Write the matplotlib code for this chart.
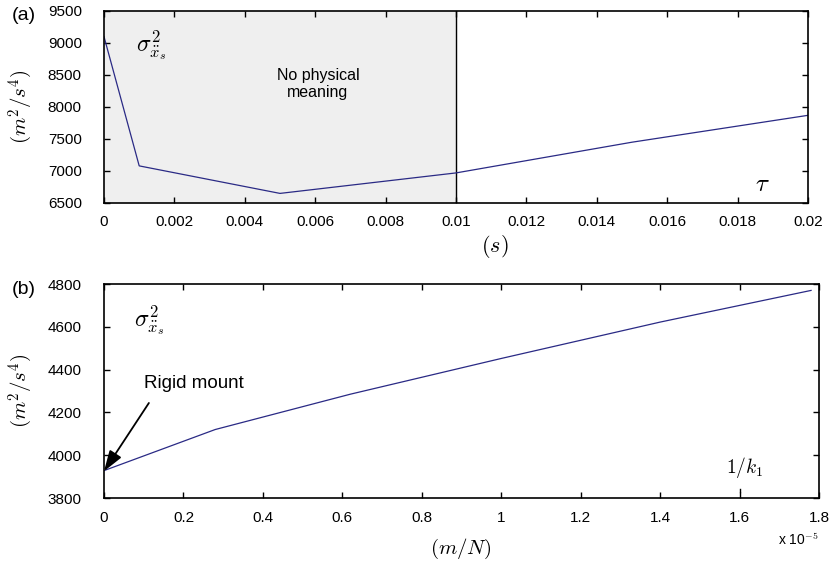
import matplotlib
matplotlib.use("Agg")
import matplotlib.pyplot as plt

plt.rcParams['font.family'] = ['Liberation Sans', 'DejaVu Sans']
plt.rcParams['mathtext.fontset'] = 'cm'

# Panel (a): variance vs tau
tau = [0.0, 0.001, 0.005, 0.01, 0.015, 0.02]
var_a = [9100, 7080, 6650, 6970, 7450, 7870]
xticks_a = [0, 0.002, 0.004, 0.006, 0.008, 0.01, 0.012, 0.014, 0.016, 0.018, 0.02]
xticklabels_a = ['0', '0.002', '0.004', '0.006', '0.008', '0.01', '0.012', '0.014', '0.016', '0.018', '0.02']
yticks_a = [6500, 7000, 7500, 8000, 8500, 9000, 9500]

# Panel (b): variance vs compliance 1/k (x 1e-5)
comp = [0.0, 0.28, 0.62, 1.0, 1.4, 1.78]
var_b = [3928, 4120, 4285, 4452, 4622, 4770]
xticks_b = [0, 0.2, 0.4, 0.6, 0.8, 1.0, 1.2, 1.4, 1.6, 1.8]
xticklabels_b = ['0', '0.2', '0.4', '0.6', '0.8', '1', '1.2', '1.4', '1.6', '1.8']
yticks_b = [3800, 4000, 4200, 4400, 4600, 4800]

W, H = 833, 566
fig = plt.figure(figsize=(W / 100, H / 100), dpi=100)

line_color = '#2a2a85'

def frac(x0, y0, x1, y1):
    return [x0 / W, 1 - y1 / H, (x1 - x0) / W, (y1 - y0) / H]

ax1 = fig.add_axes(frac(104, 11, 808, 203))
ax1.axvspan(0, 0.01, color='#efefef', zorder=0)
ax1.axvline(0.01, color='black', lw=1.0, zorder=1)
ax1.plot(tau, var_a, color=line_color, lw=0.9, zorder=2)
ax1.set_xlim(0, 0.02)
ax1.set_ylim(6500, 9500)
ax1.set_xticks(xticks_a)
ax1.set_xticklabels(xticklabels_a)
ax1.set_yticks(yticks_a)
fig.text(495 / W, 1 - 246 / H, r'$(s)$', fontsize=16, ha='center', va='center')
ax1.set_ylabel(r'$(m^2/s^4)$', fontsize=15, labelpad=9)
ax1.text(0.00608, 8360, 'No physical\nmeaning', ha='center', va='center', fontsize=11.5, linespacing=1.15)
ax1.text(0.0187, 6790, r'$\tau$', fontsize=18, ha='center', va='center')
ax1.text(0.0009, 8970, r'$\sigma^2_{\ddot{x}_s}$', fontsize=17, ha='left', va='center')
fig.text(24 / W, 1 - 15 / H, '(a)', fontsize=14, ha='center', va='center')

ax2 = fig.add_axes(frac(104, 284, 819, 498))
ax2.plot(comp, var_b, color=line_color, lw=0.9)
ax2.set_xlim(0, 1.8)
ax2.set_ylim(3800, 4800)
ax2.set_xticks(xticks_b)
ax2.set_xticklabels(xticklabels_b)
ax2.set_yticks(yticks_b)
fig.text(461 / W, 1 - 549 / H, r'$(m/N)$', fontsize=15, ha='center', va='center')
ax2.set_ylabel(r'$(m^2/s^4)$', fontsize=15, labelpad=9)
ax2.text(0.076, 4630, r'$\sigma^2_{\ddot{x}_s}$', fontsize=17, ha='left', va='center')
ax2.text(0.1, 4337, 'Rigid mount', fontsize=13.5, ha='left', va='center')
ax2.annotate('', xy=(0.0, 3925), xytext=(0.113, 4244),
             arrowprops=dict(arrowstyle='-|>,head_length=0.9,head_width=0.3',
                             color='black', lw=1.3,
                             shrinkA=0, shrinkB=0, mutation_scale=14))
ax2.text(1.612, 3885, r'$1/k_1$', fontsize=14, ha='center', va='bottom')
ax2.plot([1.6, 1.6], [3828, 3843], color='black', lw=1.0)
fig.text(24 / W, 1 - 289 / H, '(b)', fontsize=14, ha='center', va='center')
fig.text(778 / W, 1 - 540 / H, r'x 10$^{-5}$', fontsize=10, ha='left', va='center')

for ax in (ax1, ax2):
    ax.tick_params(direction='in', top=True, right=True, labelsize=11, length=4, width=1.0)
    ax.tick_params(axis='x', pad=9)
    ax.tick_params(axis='y', pad=16)
    for s in ax.spines.values():
        s.set_linewidth(1.2)

fig.savefig('out.png', dpi=100)
